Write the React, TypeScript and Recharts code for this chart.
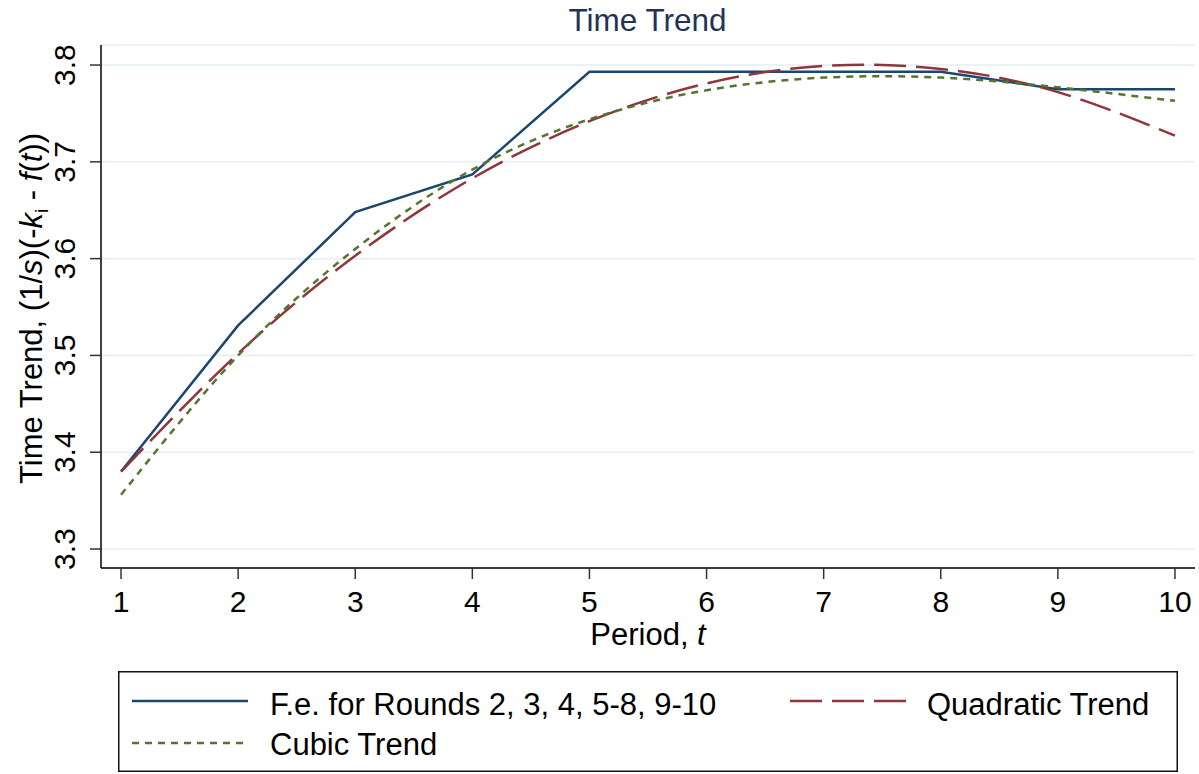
import React from "react";
import {
  LineChart,
  Line,
  XAxis,
  YAxis,
  CartesianGrid,
  Legend,
} from "recharts";

// values
const periods = [1, 2, 3, 4, 5, 6, 7, 8, 9, 10];
const fixedEffects = [3.38, 3.531, 3.648, 3.687, 3.793, 3.793, 3.793, 3.793, 3.775, 3.775];
const quadraticTrend = [3.38, 3.502, 3.603, 3.683, 3.742, 3.781, 3.799, 3.796, 3.772, 3.727];
const cubicTrend = [3.356, 3.5, 3.61, 3.692, 3.744, 3.774, 3.787, 3.787, 3.777, 3.763];
const yTicks = [3.3, 3.4, 3.5, 3.6, 3.7, 3.8];
const xTicks = [1, 2, 3, 4, 5, 6, 7, 8, 9, 10];

const seriesInfo = [
  { key: "fe", name: "F.e. for Rounds 2, 3, 4, 5-8, 9-10", color: "#1a476f", dash: undefined, curve: "linear" },
  { key: "quad", name: "Quadratic Trend", color: "#90353b", dash: "32 10", curve: "natural" },
  { key: "cubic", name: "Cubic Trend", color: "#55752f", dash: "7 6", curve: "natural" },
];

const data = periods.map((t, i) => ({
  t,
  fe: fixedEffects[i],
  quad: quadraticTrend[i],
  cubic: cubicTrend[i],
}));

const FONT = "'Liberation Sans', Arial, Helvetica, sans-serif";

const YTick = (props: any) => {
  const { x, y, payload } = props;
  return (
    <text
      x={x}
      y={y}
      transform={`rotate(-90, ${x}, ${y})`}
      textAnchor="middle"
      fontSize={30}
      fontFamily={FONT}
      fill="#000"
    >
      {payload.value.toFixed(1)}
    </text>
  );
};

const YLabel = (props: any) => {
  const vb = props.viewBox;
  const cx = 42;
  const cy = vb.y + vb.height / 2 + 2;
  return (
    <text
      x={cx}
      y={cy}
      transform={`rotate(-90, ${cx}, ${cy})`}
      textAnchor="middle"
      fontSize={31}
      fontFamily={FONT}
      fill="#000"
    >
      Time Trend, (1/<tspan fontStyle="italic">s</tspan>)(-<tspan fontStyle="italic">k</tspan>
      <tspan fontSize={19} dy={6}>i</tspan>
      <tspan dy={-6}> - </tspan>
      <tspan fontStyle="italic">f</tspan>(<tspan fontStyle="italic">t</tspan>))
    </text>
  );
};

const XLabel = (props: any) => {
  const vb = props.viewBox;
  return (
    <text
      x={vb.x + vb.width / 2}
      y={645}
      textAnchor="middle"
      fontSize={31}
      fontFamily={FONT}
      fill="#000"
    >
      Period, <tspan fontStyle="italic">t</tspan>
    </text>
  );
};

const LegendBox = (props: any) => {
  const payload = props.payload || [];
  const spots: Record<string, { lx: number; tx: number; ly: number; ty: number }> = {
    fe: { lx: 14, tx: 152, ly: 30, ty: 44 },
    quad: { lx: 672, tx: 809, ly: 30, ty: 44 },
    cubic: { lx: 14, tx: 152, ly: 72, ty: 84 },
  };
  return (
    <svg width={1060} height={101} style={{ display: "block" }}>
      <rect x={0.75} y={0.75} width={1058.5} height={99.5} fill="#fff" stroke="#111" strokeWidth={1.5} />
      {payload.map((p: any) => {
        const info = seriesInfo.find((s) => s.key === p.dataKey)!;
        const s = spots[info.key];
        return (
          <g key={info.key}>
            <line
              x1={s.lx}
              x2={s.lx + 116}
              y1={s.ly}
              y2={s.ly}
              stroke={info.color}
              strokeWidth={2.5}
              strokeDasharray={info.dash}
            />
            <text x={s.tx} y={s.ty} fontSize={31} fontFamily={FONT} fill="#000">
              {info.name}
            </text>
          </g>
        );
      })}
    </svg>
  );
};

export default function App() {
  return (
    <div style={{ position: "absolute", left: 0, top: 0, width: 1199, height: 774, background: "#fff" }}>
      <div
        style={{
          position: "absolute",
          left: 0,
          width: 1199,
          top: 2,
          textAlign: "center",
          fontFamily: FONT,
          fontSize: 31.5,
          lineHeight: "37px",
          color: "#1f3357",
          paddingLeft: 96,
          boxSizing: "border-box",
        }}
      >
        Time Trend
      </div>
      <LineChart
        width={1199}
        height={774}
        data={data}
        margin={{ top: 45, right: 4, left: 0, bottom: 116 }}
        style={{ position: "absolute", left: 0, top: 0 }}
      >
        <CartesianGrid vertical={false} stroke="#eaf2f3" strokeWidth={2} />
        <XAxis
          dataKey="t"
          type="number"
          domain={[0.829, 10.171]}
          ticks={xTicks}
          allowDataOverflow
          height={90}
          tickSize={11}
          tickMargin={12}
          tick={{ fontSize: 30, fontFamily: FONT, fill: "#000" }}
          axisLine={{ stroke: "#000", strokeWidth: 1.5 }}
          tickLine={{ stroke: "#333", strokeWidth: 1.5 }}
          label={<XLabel />}
        />
        <YAxis
          type="number"
          domain={[3.2804, 3.8207]}
          ticks={yTicks}
          allowDataOverflow
          width={101}
          tickSize={11}
          tickMargin={15}
          tick={<YTick />}
          axisLine={{ stroke: "#000", strokeWidth: 1.5 }}
          tickLine={{ stroke: "#333", strokeWidth: 1.5 }}
          label={<YLabel />}
        />
        {seriesInfo.map((s) => (
          <Line
            key={s.key}
            dataKey={s.key}
            name={s.name}
            type={s.curve as any}
            stroke={s.color}
            strokeWidth={2.5}
            strokeDasharray={s.dash}
            dot={false}
            activeDot={false}
            isAnimationActive={false}
          />
        ))}
        <Legend
          layout="horizontal"
          verticalAlign="middle"
          align="center"
          content={<LegendBox />}
          wrapperStyle={{ left: 118, top: 671, width: 1060, height: 101 }}
        />
      </LineChart>
    </div>
  );
}
